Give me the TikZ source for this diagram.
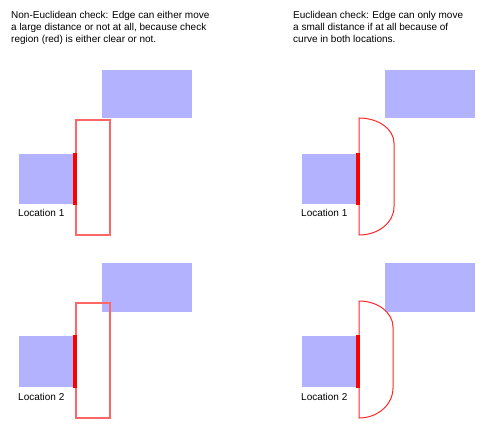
\documentclass[tikz,border=0pt]{standalone}
\usepackage{fontspec}
\setmainfont{Liberation Sans}
\begin{document}
\begin{tikzpicture}[x=1pt,y=-1pt,
  txt/.style={anchor=base west,inner sep=0pt,font=\fontsize{10}{12}\selectfont},
  blk/.style={fill={rgb,255:red,178;green,178;blue,255},draw=none},
  chk/.style={draw=red!60,line width=1.1pt},
  chkc/.style={draw=red!85,line width=1pt},
  edge/.style={draw=red,line width=4pt}]
\useasboundingbox (0,0) rectangle (488,432);
% captions
\node[txt] (l1) at (11,18) {Non-Euclidean check: Edge can either move};
\node[txt] (l2) at (11,30) {a large distance or not at all, because check};
\node[txt] (l3) at (11,42) {region (red) is either clear or not.};
\node[txt] (r1) at (293,18) {Euclidean check: Edge can only move};
\node[txt] (r2) at (293,30) {a small distance if at all because of};
\node[txt] (r3) at (293,42) {curve in both locations.};
% top-left
\path[blk] (102,70) rectangle (192,118);
\path[blk] (19,154) rectangle (73.5,204);
\draw[chk] (76,120) rectangle (110,235);
\draw[edge] (75,153) -- (75,205);
\node[txt] (la1) at (18,216) {Location 1};
% bottom-left
\path[blk] (102,263) rectangle (192,312);
\path[blk] (19,336) rectangle (73.5,387);
\draw[chk] (76,303) rectangle (110,418);
\draw[edge] (75,335) -- (75,388);
\node[txt] (la2) at (18,400) {Location 2};
% top-right
\path[blk] (385,70) rectangle (475,118);
\path[blk] (302,154) rectangle (357,204);
\draw[chkc] (359,118) arc[start angle=-90,end angle=0,x radius=35,y radius=25]
  -- (394,207) arc[start angle=0,end angle=90,x radius=35,y radius=28] -- cycle;
\draw[edge] (358,153) -- (358,205);
\node[txt] (la3) at (301,216) {Location 1};
% bottom-right
\path[blk] (385,263) rectangle (475,312);
\path[blk] (302,336) rectangle (357,387);
\draw[chkc] (359,301) arc[start angle=-90,end angle=0,x radius=34,y radius=26]
  -- (393,388) arc[start angle=0,end angle=90,x radius=34,y radius=30] -- cycle;
\draw[edge] (358,335) -- (358,388);
\node[txt] (la4) at (301,400) {Location 2};
\end{tikzpicture}
\end{document}
